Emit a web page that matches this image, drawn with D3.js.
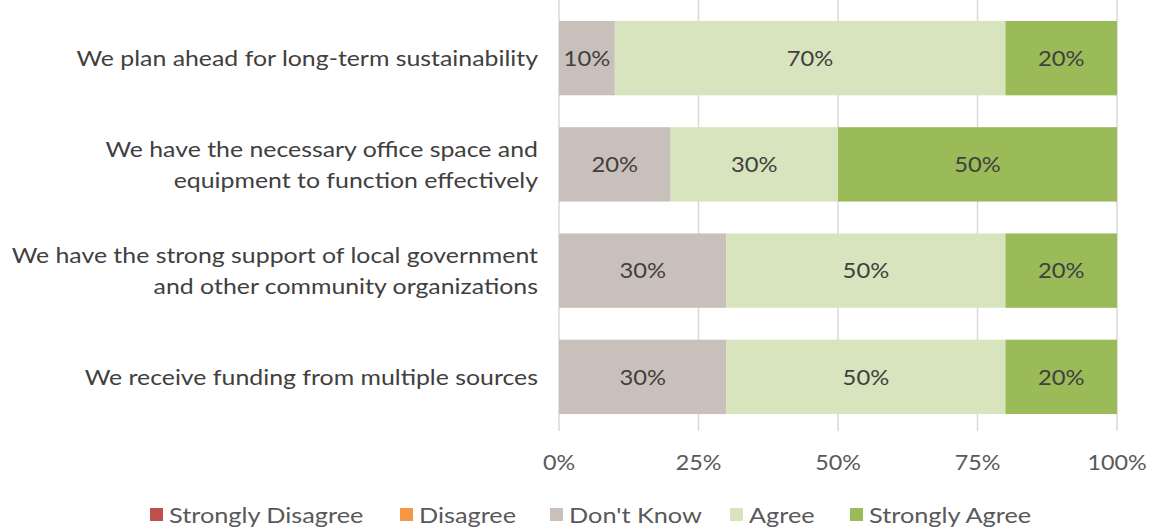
<!DOCTYPE html>
<html><head><meta charset="utf-8">
<script src="https://cdn.jsdelivr.net/npm/d3@7"></script>
<style>
html,body{margin:0;padding:0;background:#fff;}
svg{display:block;}
</style></head>
<body><svg id="c" width="1154" height="529"></svg>
<script>
const categories = [
  ["We plan ahead for long-term sustainability"],
  ["We have the necessary office space and", "equipment to function effectively"],
  ["We have the strong support of local government", "and other community organizations"],
  ["We receive funding from multiple sources"]
];
const seriesNames = ["Strongly Disagree", "Disagree", "Don't Know", "Agree", "Strongly Agree"];
const stronglyDisagree = [0, 0, 0, 0];
const disagree = [0, 0, 0, 0];
const dontKnow = [0.10, 0.20, 0.30, 0.30];
const agree = [0.70, 0.30, 0.50, 0.50];
const stronglyAgree = [0.20, 0.50, 0.20, 0.20];
const tickValues = [0, 0.25, 0.5, 0.75, 1];
const colors = ["#C0504D", "#F79646", "#C9C0BB", "#D7E4BD", "#9BBB59"];

const font = "Lato, 'Open Sans', sans-serif";
const svg = d3.select("#c");
const x = d3.scaleLinear().domain([0, 1]).range([559, 1117]);
const y = d3.scaleBand().domain(d3.range(categories.length)).range([5, 430]).paddingInner(0.3).paddingOuter(0.15);

// gridlines
svg.append("g").selectAll("line").data(tickValues).join("line")
  .attr("x1", d => x(d)).attr("x2", d => x(d))
  .attr("y1", 0).attr("y2", 431)
  .attr("stroke", "#D9D9D9").attr("stroke-width", 1.5);

const series = [stronglyDisagree, disagree, dontKnow, agree, stronglyAgree];
const rows = categories.map((c, i) => {
  const o = {i};
  seriesNames.forEach((s, k) => o[s] = series[k][i]);
  return o;
});
const stack = d3.stack().keys(seriesNames)(rows);

const g = svg.append("g");
stack.forEach((layer, k) => {
  const segs = layer.filter(d => d[1] - d[0] > 0);
  g.selectAll(null).data(segs).join("rect")
    .attr("x", d => x(d[0])).attr("width", d => x(d[1]) - x(d[0]))
    .attr("y", d => y(d.data.i)).attr("height", y.bandwidth())
    .attr("fill", colors[k]);
  g.selectAll(null).data(segs).join("text")
    .attr("transform", d => `translate(${(x(d[0]) + x(d[1])) / 2},${y(d.data.i) + y.bandwidth() / 2}) scale(1.08,1)`)
    .attr("dy", "0.35em")
    .attr("text-anchor", "middle")
    .attr("font-family", font).attr("font-size", 22)
    .attr("fill", "#404040")
    .text(d => Math.round((d[1] - d[0]) * 100) + "%");
});

// category labels
categories.forEach((lines, i) => {
  const cy = y(i) + y.bandwidth() / 2;
  const lh = 31;
  const t = svg.append("text")
    .attr("transform", `translate(538,${cy}) scale(1.13,1)`)
    .attr("text-anchor", "end")
    .attr("font-family", font).attr("font-size", 22)
    .attr("fill", "#404040");
  lines.forEach((ln, j) => {
    t.append("tspan").attr("x", 0)
      .attr("y", (j - (lines.length - 1) / 2) * lh)
      .attr("dy", "0.35em").text(ln);
  });
});

// x-axis tick labels
svg.append("g").selectAll("text").data(tickValues).join("text")
  .attr("transform", d => `translate(${x(d)},462) scale(1.06,1)`)
  .attr("dy", "0.35em")
  .attr("text-anchor", "middle")
  .attr("font-family", font).attr("font-size", 22)
  .attr("fill", "#595959")
  .text(d3.format(".0%"));

// legend
const legendX = [150, 400, 550, 730, 850];
const lg = svg.append("g");
seriesNames.forEach((s, k) => {
  lg.append("rect").attr("x", legendX[k]).attr("y", 508).attr("width", 13).attr("height", 13).attr("fill", colors[k]);
  lg.append("text").attr("transform", `translate(${legendX[k] + 19},515) scale(1.15,1)`).attr("dy", "0.35em")
    .attr("font-family", font).attr("font-size", 22).attr("fill", "#595959")
    .text(s);
});
</script></body></html>
